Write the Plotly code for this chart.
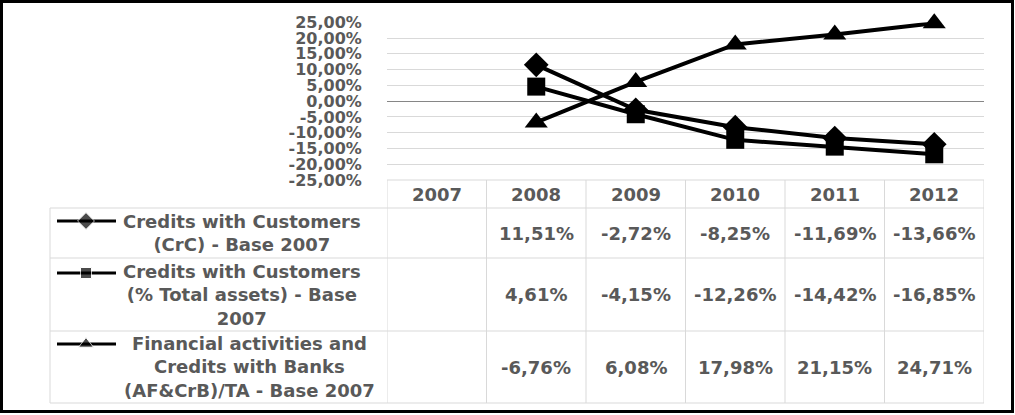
import plotly.graph_objects as go

# ---------------- data ----------------
years = [2007, 2008, 2009, 2010, 2011, 2012]
data_years = [2008, 2009, 2010, 2011, 2012]
crc = [11.51, -2.72, -8.25, -11.69, -13.66]
crc_ta = [4.61, -4.15, -12.26, -14.42, -16.85]
afcrb = [-6.76, 6.08, 17.98, 21.15, 24.71]
series_labels = [
    "Credits with Customers<br>(CrC) - Base 2007",
    "Credits with Customers<br>(% Total assets) - Base<br>2007",
    "Financial activities and<br>Credits with Banks<br>(AF&CrB)/TA - Base 2007",
]
series_values = [crc, crc_ta, afcrb]
symbols = ["diamond", "square", "triangle-up"]
y_ticks = [-25, -20, -15, -10, -5, 0, 5, 10, 15, 20, 25]
y_ticktext = [f"{v:.2f}".replace(".", ",") + "%" for v in y_ticks]

# ---------------- layout helpers (pixels -> paper) ----------------
W, H = 1015, 415
def px(p):
    return p / W
def py(p):
    return 1 - p / H

FONT = "DejaVu Sans"
TXT = "#595959"
GRID = "#d9d9d9"

fig = go.Figure()

main_sizes = [19, 18, 20]
for vals, sym, ms, lab in zip(series_values, symbols, main_sizes, series_labels):
    fig.add_trace(go.Scatter(
        x=data_years, y=vals, mode="lines+markers",
        name=lab.replace("<br>", " "),
        line=dict(color="black", width=4),
        marker=dict(symbol=sym, size=ms, color="black"),
        cliponaxis=False,
        showlegend=False, xaxis="x", yaxis="y",
    ))

# legend keys inside the data table (full-page pixel axis)
key_y = [221, 273, 344]
key_sizes = [13, 11, 13]
for ky, sym, ks in zip(key_y, symbols, key_sizes):
    fig.add_trace(go.Scatter(
        x=[57, 86, 116], y=[ky, ky, ky], mode="lines+markers",
        line=dict(color="black", width=3),
        marker=dict(symbol=sym, size=[0, ks, 0], color="black"),
        showlegend=False, hoverinfo="skip", xaxis="x2", yaxis="y2",
    ))

shapes = []
annotations = []

# table geometry (pixels)
tbl_top, hdr_bot = 180, 208
row_bounds = [208, 258, 331, 403]
lab_left, col_left, tbl_right = 50, 387, 984

line_style = dict(color=GRID, width=1)
shapes.append(dict(type="line", xref="paper", yref="paper",
                   x0=px(col_left), x1=px(tbl_right), y0=py(tbl_top), y1=py(tbl_top), line=line_style))
for rb in row_bounds:
    shapes.append(dict(type="line", xref="paper", yref="paper",
                       x0=px(lab_left), x1=px(tbl_right), y0=py(rb), y1=py(rb), line=line_style))
shapes.append(dict(type="line", xref="paper", yref="paper",
                   x0=px(lab_left), x1=px(lab_left), y0=py(hdr_bot), y1=py(row_bounds[-1]), line=line_style))
for k in range(len(years) + 1):
    xb = years[0] - 0.5 + k
    shapes.append(dict(type="line", xref="x", yref="paper",
                       x0=xb, x1=xb, y0=py(tbl_top), y1=py(row_bounds[-1]), line=line_style))

# outer black frame
shapes.append(dict(type="rect", xref="paper", yref="paper",
                   x0=px(1.5), x1=px(1012.5), y0=py(1.5), y1=py(411.5),
                   line=dict(color="black", width=3), fillcolor="rgba(0,0,0,0)"))

tfont = dict(family=FONT, size=18, color=TXT, weight="bold")

for yr in years:
    annotations.append(dict(xref="x", yref="paper", x=yr, y=py((tbl_top + hdr_bot) / 2),
                            text=str(yr), showarrow=False, font=tfont,
                            xanchor="center", yanchor="middle"))

label_cx = [242, 242, 249]
for i, (lab, vals) in enumerate(zip(series_labels, series_values)):
    cy = (row_bounds[i] + row_bounds[i + 1]) / 2
    annotations.append(dict(xref="paper", yref="paper", x=px(label_cx[i]), y=py(cy),
                            text=lab, showarrow=False, font=tfont, align="center",
                            xanchor="center", yanchor="middle"))
    for yr, v in zip(data_years, vals):
        txt = f"{v:.2f}".replace(".", ",") + "%"
        annotations.append(dict(xref="x", yref="paper", x=yr, y=py(cy),
                                text=txt, showarrow=False, font=tfont,
                                xanchor="center", yanchor="middle"))

fig.update_layout(
    width=W, height=H,
    margin=dict(l=0, r=0, t=0, b=0),
    paper_bgcolor="white", plot_bgcolor="rgba(0,0,0,0)",
    xaxis=dict(domain=[px(col_left), px(tbl_right)], range=[years[0] - 0.5, years[-1] + 0.5],
               showticklabels=False, showgrid=False, zeroline=False, showline=False, ticks=""),
    yaxis=dict(domain=[py(tbl_top), py(22.3)], range=[-25, 25],
               tickvals=y_ticks, ticktext=y_ticktext,
               showgrid=True, gridcolor=GRID, gridwidth=1,
               zeroline=True, zerolinecolor="#868686", zerolinewidth=1,
               showline=False, ticks="outside", ticklen=21, tickcolor="rgba(0,0,0,0)",
               tickfont=dict(family=FONT, size=16, color=TXT, weight="bold"),
               automargin=False),
    xaxis2=dict(domain=[0, 1], range=[0, W], visible=False, anchor="y2"),
    yaxis2=dict(domain=[0, 1], range=[H, 0], visible=False, anchor="x2"),
    shapes=shapes, annotations=annotations,
)

fig.write_html("out.html")
